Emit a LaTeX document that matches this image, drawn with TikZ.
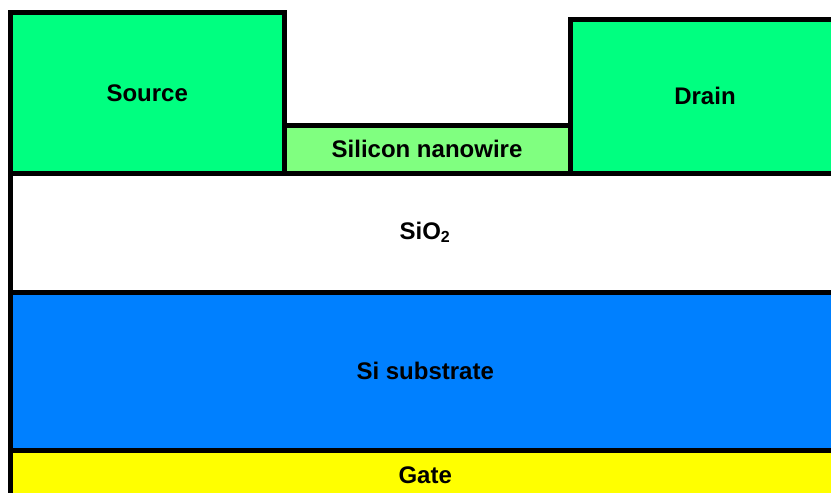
\documentclass[tikz,border=0pt]{standalone}
\usepackage{fontspec}
\setmainfont{Liberation Sans}
\usepackage{tikz}
\usetikzlibrary{positioning}
\definecolor{contactgreen}{RGB}{0,255,128}
\definecolor{wiregreen}{RGB}{128,255,128}
\definecolor{subblue}{RGB}{0,128,255}
\definecolor{gateyellow}{RGB}{255,255,0}
\begin{document}
\begin{tikzpicture}[x=0.5pt,y=-0.5pt]
    \tikzset{layer/.style= {draw,
        line width = 2.5pt,
        rectangle,
        outer sep  = 0pt,
        inner sep  = 0pt,
        anchor     = north west,
        font       = \fontsize{12}{14}\selectfont\bfseries}}
    \useasboundingbox (0,0) rectangle (831,493);
    \clip (0,0) rectangle (831,493);
    % layers from the bottom up
    \node[layer, fill=gateyellow, minimum width=414.75pt, minimum height=24.25pt] (gate) at (10.5,450.5) {Gate};
    \node[layer, fill=subblue, minimum width=414.75pt, minimum height=79.25pt] (substrate) at (10.5,292) {Si substrate};
    \node[layer, fill=white, minimum width=414.75pt, minimum height=59.5pt] (oxide) at (10.5,173) {SiO\textsubscript{2}};
    \node[layer, fill=wiregreen, minimum width=143pt, minimum height=23.75pt] (wire) at (284,125.5) {Silicon nanowire};
    \node[layer, fill=contactgreen, minimum width=136.75pt, minimum height=80.25pt] (source) at (10.5,12.5) {Source};
    \node[layer, fill=contactgreen, minimum width=135pt, minimum height=76.75pt] (drain) at (570,19.5) {Drain};
  \end{tikzpicture}
\end{document}
